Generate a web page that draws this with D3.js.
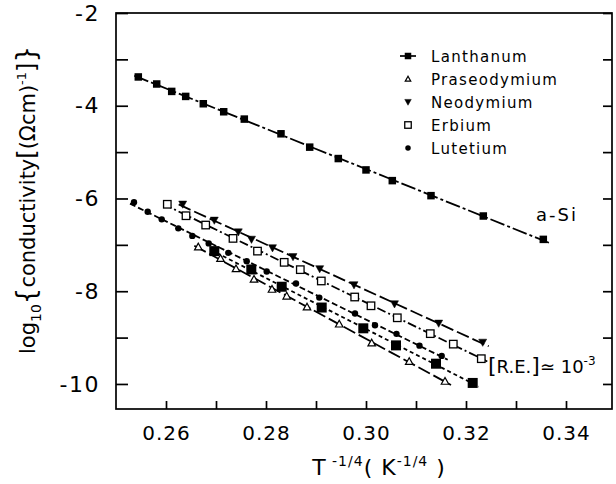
<!DOCTYPE html>
<html>
<head>
<meta charset="utf-8">
<script src="https://cdn.jsdelivr.net/npm/d3@7"></script>
<style>
  body { margin: 0; background: #fff; }
  svg { display: block; font-family: "DejaVu Sans", sans-serif; }
</style>
</head>
<body>
<svg id="root" width="616" height="484"></svg>
<script>
"use strict";

// a-Si (lanthanum) upper curve
const aSiX = [0.25446, 0.25814, 0.26114, 0.26394, 0.26746, 0.27154, 0.27566, 0.2830, 0.28874, 0.29446, 0.3000, 0.30526, 0.3130, 0.32346, 0.33546];
const aSiY = [-3.379, -3.531, -3.691, -3.799, -3.957, -4.130, -4.288, -4.605, -4.893, -5.139, -5.384, -5.615, -5.939, -6.378, -6.882];

// [R.E.] ~ 1e-3 samples
const laX = [0.26966, 0.27706, 0.28314, 0.29114, 0.29946, 0.3060, 0.3140, 0.32134];
const laY = [-7.135, -7.531, -7.903, -8.352, -8.800, -9.168, -9.563, -9.978];

const prX = [0.26646, 0.2709, 0.2740, 0.2776, 0.2812, 0.28414, 0.2882, 0.29464, 0.30114, 0.30864, 0.3158];
const prY = [-7.044, -7.293, -7.514, -7.741, -7.957, -8.104, -8.339, -8.707, -9.114, -9.514, -9.942];

const ndX = [0.26334, 0.26966, 0.27446, 0.2771, 0.2813, 0.2854, 0.29074, 0.2976, 0.3057, 0.31454, 0.32334];
const ndY = [-6.125, -6.471, -6.724, -6.882, -7.066, -7.258, -7.518, -7.864, -8.275, -8.692, -9.103];

const erX = [0.26026, 0.2640, 0.26794, 0.2734, 0.2783, 0.28364, 0.28686, 0.29106, 0.29774, 0.3010, 0.30626, 0.31286, 0.31746, 0.32306];
const erY = [-6.125, -6.372, -6.573, -6.861, -7.135, -7.377, -7.535, -7.779, -8.125, -8.314, -8.573, -8.915, -9.141, -9.455];

const luX = [0.2536, 0.25634, 0.25914, 0.26246, 0.26526, 0.26854, 0.27246, 0.27614, 0.28014, 0.2860, 0.29066, 0.2978, 0.3018, 0.3061, 0.3107, 0.31514];
const luY = [-6.082, -6.286, -6.450, -6.644, -6.807, -6.969, -7.172, -7.351, -7.574, -7.834, -8.138, -8.482, -8.735, -8.919, -9.174, -9.395];

const legendNames = ["Lanthanum", "Praseodymium", "Neodymium", "Erbium", "Lutetium"];
const xTicks = [0.26, 0.27, 0.28, 0.29, 0.30, 0.31, 0.32, 0.33, 0.34];
const yTicks = [-10, -9, -8, -7, -6, -5, -4, -3, -2];

const svg = d3.select("#root");

const x = d3.scaleLinear().domain([0.25, 0.3492]).range([116, 612]);
const y = d3.scaleLinear().domain([-10.54, -2]).range([409, 13]);

// frame
svg.append("rect")
  .attr("x", 116).attr("y", 13)
  .attr("width", 496).attr("height", 396)
  .attr("fill", "none").attr("stroke", "black").attr("stroke-width", 1.7);

// axes
const yAxis = svg.append("g")
  .attr("transform", "translate(116,0)")
  .call(d3.axisLeft(y).tickValues(yTicks).tickSize(-12).tickPadding(16)
    .tickFormat((d) => (d % 2 === 0 ? String(d) : "")));
const yAxisRight = svg.append("g")
  .attr("transform", "translate(612,0)")
  .call(d3.axisRight(y).tickValues(yTicks).tickSize(-9).tickFormat(""));
const xAxis = svg.append("g")
  .attr("transform", "translate(0,409)")
  .call(d3.axisBottom(x).tickValues(xTicks).tickSize(-8).tickPadding(17)
    .tickFormat((d) => (Math.round(d * 100) % 2 === 0 ? d.toFixed(2) : "")));

[yAxis, yAxisRight, xAxis].forEach((g) => {
  g.select(".domain").remove();
  g.selectAll("line").attr("stroke", "black").attr("stroke-width", 1.7);
  g.selectAll("text")
    .attr("fill", "black")
    .style("font-family", "DejaVu Sans, sans-serif")
    .style("font-size", "20px")
    .style("letter-spacing", "1px");
});
yAxis.selectAll("text").style("font-size", "22px").style("letter-spacing", "1.5px");

// least-squares fit line for each series
function fitLine(xs, ys) {
  const mx = d3.mean(xs), my = d3.mean(ys);
  const b = d3.sum(xs, (v, i) => (v - mx) * (ys[i] - my)) / d3.sum(xs, (v) => (v - mx) ** 2);
  const a = my - b * mx;
  const x0 = d3.min(xs) - 0.0008, x1 = d3.max(xs) + 0.0012;
  return [[x0, a + b * x0], [x1, a + b * x1]];
}

const series = [
  { xs: aSiX, ys: aSiY, kind: "squareFilled", size: 7.5, dash: "15,3,3,3" },
  { xs: ndX, ys: ndY, kind: "triDown", size: 8, dash: "13,4" },
  { xs: erX, ys: erY, kind: "squareOpen", size: 7.5, dash: "9,3,2,3" },
  { xs: luX, ys: luY, kind: "circle", size: 6.4, dash: "6,3" },
  { xs: laX, ys: laY, kind: "squareFilled", size: 10, dash: "4,3" },
  { xs: prX, ys: prY, kind: "triUp", size: 7.5, dash: "13,4" },
];

const line = d3.line().x((d) => x(d[0])).y((d) => y(d[1]));

series.forEach((s) => {
  svg.append("path")
    .attr("d", line(fitLine(s.xs, s.ys)))
    .attr("fill", "none")
    .attr("stroke", "black")
    .attr("stroke-width", 1.8)
    .attr("stroke-dasharray", s.dash);
});

function drawMarker(g, kind, cx, cy, size) {
  const h = size / 2;
  if (kind === "squareFilled" || kind === "squareOpen") {
    g.append("rect")
      .attr("x", cx - h).attr("y", cy - h)
      .attr("width", size).attr("height", size)
      .attr("fill", kind === "squareFilled" ? "black" : "white")
      .attr("stroke", "black").attr("stroke-width", kind === "squareOpen" ? 1.3 : 0);
  } else if (kind === "circle") {
    g.append("circle").attr("cx", cx).attr("cy", cy).attr("r", h).attr("fill", "black");
  } else {
    const up = kind === "triUp";
    const t = up ? -1 : 1;
    const pts = [[cx, cy + t * h * 1.0], [cx - h, cy - t * h * 0.8], [cx + h, cy - t * h * 0.8]];
    g.append("path")
      .attr("d", "M" + pts.map((p) => p.join(",")).join("L") + "Z")
      .attr("fill", up ? "white" : "black")
      .attr("stroke", "black").attr("stroke-width", up ? 1.2 : 0.5);
  }
}

const marks = svg.append("g");
series.forEach((s) => {
  s.xs.forEach((v, i) => drawMarker(marks, s.kind, x(v), y(s.ys[i]), s.size));
});

// legend
const legend = svg.append("g").attr("transform", "translate(408,56)");
const legendKinds = ["squareFilled", "triUp", "triDown", "squareOpen", "circle"];
const legendSizes = [6.5, 5.5, 6.5, 6.5, 5.5];
legendNames.forEach((name, i) => {
  const ly = i * 23;
  if (i === 0) {
    legend.append("line").attr("x1", -8).attr("x2", 8).attr("y1", ly).attr("y2", ly)
      .attr("stroke", "black").attr("stroke-width", 1.7);
  }
  drawMarker(legend, legendKinds[i], 0, ly, legendSizes[i]);
  legend.append("text")
    .attr("x", 23).attr("y", ly + 6)
    .style("font-size", "15px").style("letter-spacing", "1.3px")
    .text(name);
});

// annotations
svg.append("text")
  .attr("x", 536).attr("y", 221)
  .style("font-size", "18px").style("letter-spacing", "2px")
  .text("a-Si");

const re = svg.append("text")
  .attr("x", 488).attr("y", 373)
  .style("font-size", "18px");
re.append("tspan").style("font-size", "22px").text("[");
re.append("tspan").text("R.E.");
re.append("tspan").style("font-size", "22px").text("]");
re.append("tspan").text("\u2243 10");
re.append("tspan").attr("dy", -8).style("font-size", "12px").text("-3");

// axis titles
const xt = svg.append("text")
  .attr("x", 379).attr("y", 475)
  .attr("text-anchor", "middle")
  .style("font-size", "22px").style("letter-spacing", "1px");
xt.append("tspan").text("T");
xt.append("tspan").attr("dy", -9).style("font-size", "14px").text(" -1/4");
xt.append("tspan").attr("dy", 9).text("( K");
xt.append("tspan").attr("dy", -9).style("font-size", "14px").text("-1/4");
xt.append("tspan").attr("dy", 9).text(" )");

const yt = svg.append("text")
  .attr("transform", "translate(35,200) rotate(-90)")
  .attr("text-anchor", "middle")
  .style("font-size", "21px");
yt.append("tspan").text("log");
yt.append("tspan").attr("dy", 6).style("font-size", "14px").text("10");
yt.append("tspan").attr("dy", -6).style("font-size", "26px").text("{");
yt.append("tspan").text("conductivity");
yt.append("tspan").style("font-size", "24px").text("[");
yt.append("tspan").text("(\u03A9cm)");
yt.append("tspan").attr("dy", -9).style("font-size", "13px").text("-1");
yt.append("tspan").attr("dy", 9).style("font-size", "24px").text("]");
yt.append("tspan").style("font-size", "26px").text("}");
</script>
</body>
</html>
